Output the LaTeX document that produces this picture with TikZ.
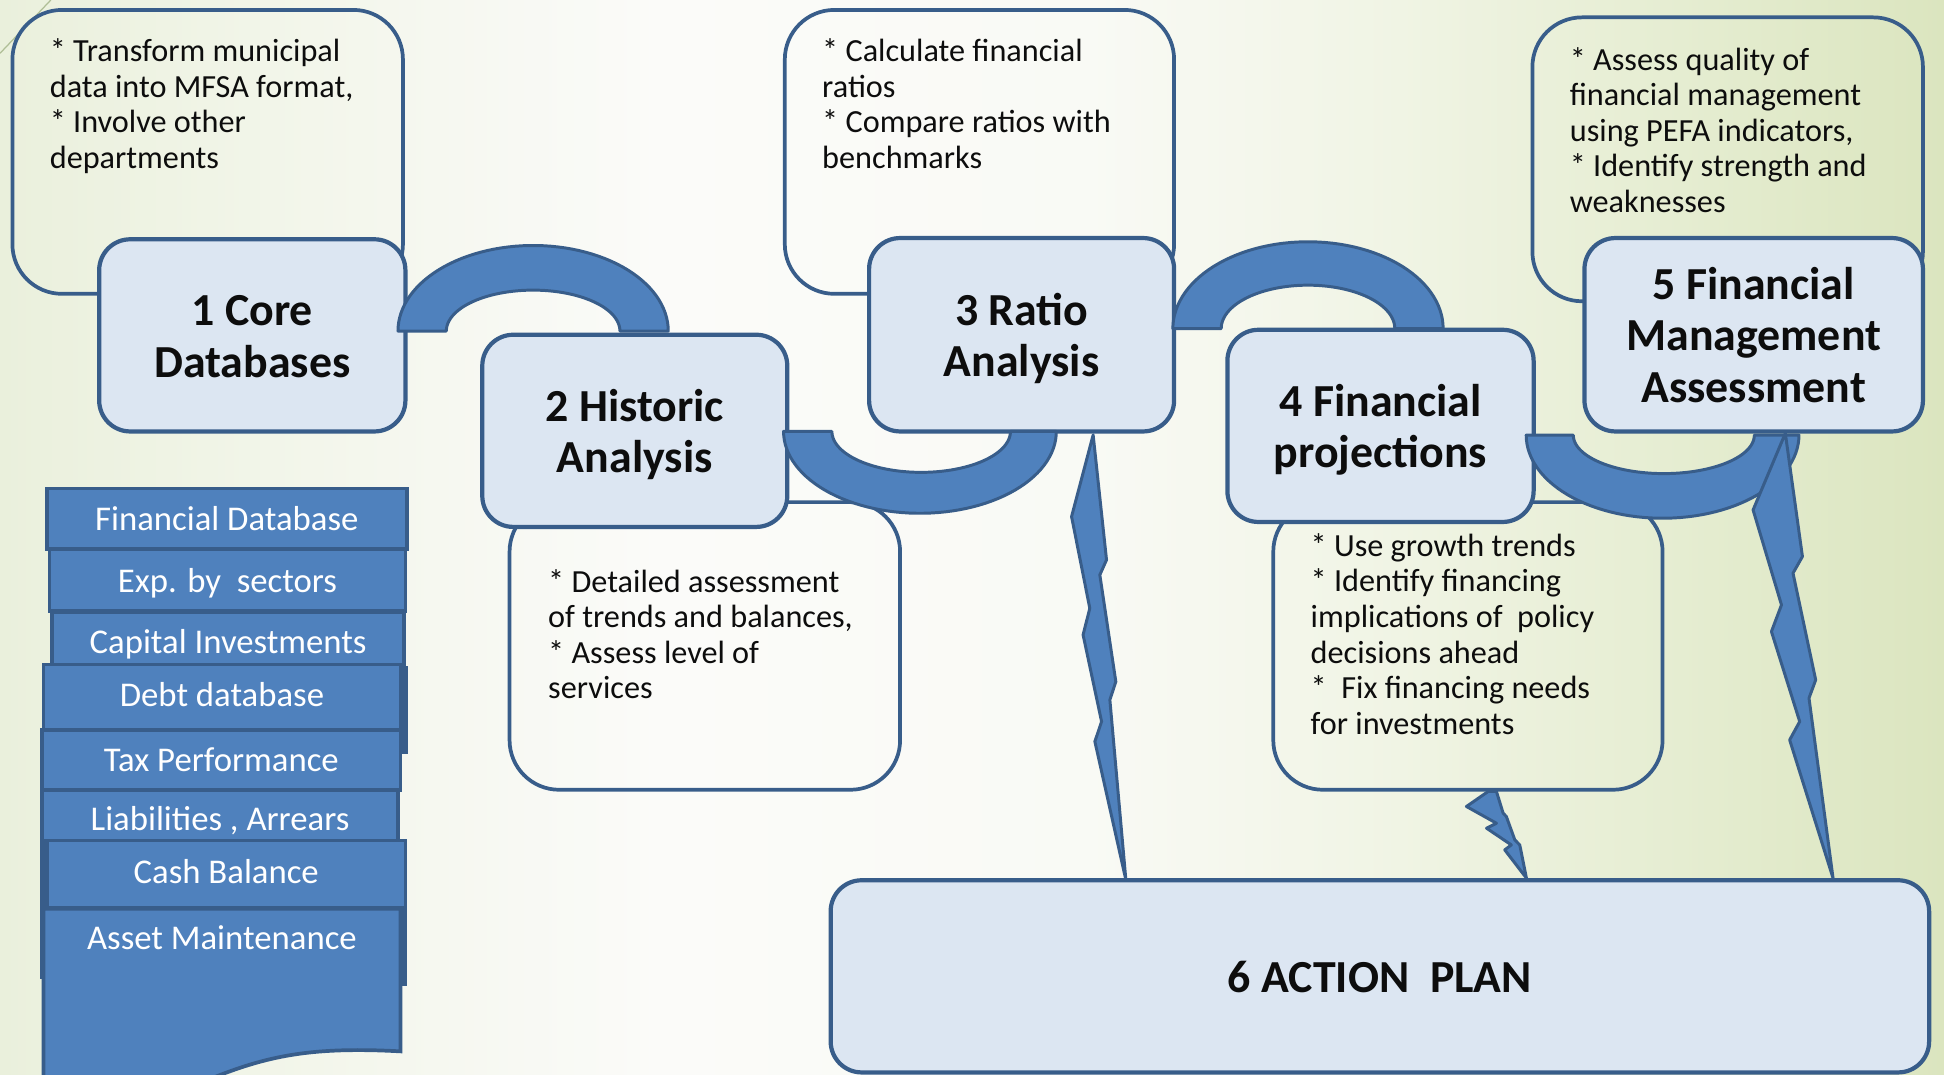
\documentclass[tikz,border=0pt]{standalone}
\usepackage{fontspec}
\setmainfont{Carlito}
\definecolor{bordc}{RGB}{56,93,138}
\definecolor{accent}{RGB}{79,129,189}
\definecolor{boxfill}{RGB}{220,230,242}
\definecolor{txt}{RGB}{13,13,13}
\definecolor{decoline}{RGB}{175,190,150}
\definecolor{bgA}{RGB}{234,240,220}
\definecolor{bgB}{RGB}{243,246,235}
\definecolor{bgC}{RGB}{251,251,249}
\definecolor{bgD}{RGB}{249,250,245}
\definecolor{bgE}{RGB}{240,244,228}
\definecolor{bgF}{RGB}{228,236,207}
\definecolor{bgG}{RGB}{219,229,191}
\pgfdeclarehorizontalshading{bgshade}{100bp}{color(0bp)=(bgA); color(25bp)=(bgA); color(33bp)=(bgB); color(42bp)=(bgC); color(53bp)=(bgD); color(61bp)=(bgE); color(69bp)=(bgF); color(75bp)=(bgG); color(100bp)=(bgG)}
\newcommand{\tstr}{\rule{0pt}{34pt}}
\newcommand{\bstr}{\rule[-8pt]{0pt}{0pt}}
\begin{document}
\begin{tikzpicture}[x=1pt,y=-1pt,
  mainbox/.style={draw=bordc, fill=boxfill, line width=3.4pt, rounded corners=25pt, inner sep=0pt, align=center, font=\fontsize{37}{41.5}\selectfont\bfseries, text=txt},
  notebox/.style={draw=bordc, line width=3pt, rounded corners=40pt, inner sep=0pt},
  notetext/.style={anchor=north west, inner sep=0pt, align=left, font=\fontsize{26}{28.7}\selectfont, text=txt},
  strip/.style={draw=bordc, fill=accent, line width=3pt, inner sep=0pt, text=white, font=\fontsize{28}{30}\selectfont, text height=25pt, text depth=6pt},
  conn/.style={draw=bordc, fill=accent, line width=2.4pt, line join=round},
  backing/.style={fill=bordc}
]
\useasboundingbox (0,0) rectangle (1568,867);
\shade[shading=bgshade] (0,0) rectangle (1568,867);
\clip (0,0) rectangle (1568,867);
\draw[decoline, line width=1pt] (0,43) -- (41,0);

% note boxes
\node[notebox, minimum width=315pt, minimum height=229pt] (n1) at (167.5,122.5) {};
\node[notebox, minimum width=315pt, minimum height=232pt] (n2) at (568.5,521) {};
\node[notebox, minimum width=314pt, minimum height=229pt] (n3) at (790,122.5) {};
\node[notebox, minimum width=314pt, minimum height=232pt] (n4) at (1184,521) {};
\node[notebox, minimum width=315pt, minimum height=229pt] (n5) at (1393.5,128.5) {};

\node[notetext] (n1t) at (40,31) {* Transform municipal\\data into MFSA format,\\* Involve other\\departments};
\node[notetext] (n2t) at (442,459) {* Detailed assessment\\of trends and balances,\\* Assess level of\\services};
\node[notetext] (n3t) at (663,31) {* Calculate financial\\ratios\\* Compare ratios with\\benchmarks};
\node[notetext] (n4t) at (1057,430) {* Use growth trends\\* Identify financing\\implications of~~policy\\decisions ahead\\*~~Fix financing needs\\for investments};
\node[notetext] (n5t) at (1266,38) {* Assess quality of\\financial management\\using PEFA indicators,\\* Identify strength and\\weaknesses};

% main boxes
\node[mainbox, minimum width=247pt, minimum height=155pt] (b1) at (203.5,270.5) {\tstr 1 Core\\Databases\bstr};
\node[mainbox, minimum width=246pt, minimum height=155pt] (b2) at (512,347.5) {\tstr 2 Historic\\Analysis\bstr};
\node[mainbox, minimum width=246pt, minimum height=156pt] (b3) at (824,270) {\tstr 3 Ratio\\Analysis\bstr};
\node[mainbox, minimum width=247pt, minimum height=155pt] (b4) at (1113.5,343.5) {\tstr 4 Financial\\projections\bstr};
\node[mainbox, minimum width=273pt, minimum height=156pt] (b5) at (1414.5,270) {\tstr 5 Financial\\Management\\Assessment\bstr};
\node[mainbox, minimum width=886pt, minimum height=155pt] (b6) at (1113,787.5) {\tstr 6 ACTION~~PLAN\bstr};

% connectors (block arcs)
\filldraw[conn] plot[domain=0:180, samples=60] ({430-109*cos(\x)},{267-69*sin(\x)}) -- plot[domain=0:180, samples=60] ({430+70*cos(\x)},{267-33*sin(\x)}) -- cycle;
\filldraw[conn] plot[domain=0:180, samples=60] ({742-110*cos(\x)},{348+66*sin(\x)}) -- plot[domain=0:180, samples=60] ({743+72*cos(\x)},{348+33*sin(\x)}) -- cycle;
\filldraw[conn] plot[domain=0:180, samples=60] ({1055-109*cos(\x)},{265-70*sin(\x)}) -- plot[domain=0:180, samples=60] ({1055+70*cos(\x)},{265-35*sin(\x)}) -- cycle;
\filldraw[conn] plot[domain=0:180, samples=60] ({1341-110*cos(\x)},{351+67*sin(\x)}) -- plot[domain=0:180, samples=60] ({1342+73*cos(\x)},{351+31*sin(\x)}) -- cycle;

% lightning connectors
\filldraw[conn] (881.7,350.8) -- (864.3,416.7) -- (879,490.6) -- (873.6,512.1) -- (888.5,582) -- (883.1,598.1) -- (908.1,709.7) -- (895.2,564.5) -- (900,549.8) -- (887.1,463.7) -- (892.5,451.6) -- cycle;
\filldraw[conn] (1440,349.5) -- (1414,411.3) -- (1436.9,487.9) -- (1428.8,509.4) -- (1451.6,582) -- (1443.5,596.8) -- (1478.5,708.3) -- (1459.1,563.1) -- (1464.5,548.4) -- (1446.2,462.3) -- (1453.8,448.9) -- cycle;
\filldraw[conn] (1200.3,638.4) -- (1182.8,650.5) -- (1207,664) -- (1199,668) -- (1219,681.5) -- (1213.7,685.5) -- (1231.2,708.3) -- (1225.8,681.5) -- (1221.8,677.4) -- (1215,658.6) -- (1212.4,655.9) -- (1207,638.4) -- cycle;

% database stack
\fill[backing] (300,537) rectangle (329,608);
\fill[backing] (32,678) rectangle (60,790);
\fill[backing] (300,733) rectangle (328,795);
\node[strip, minimum width=290pt, minimum height=49pt] (s1) at (183,418.5) {Financial Database};
\node[strip, minimum width=287pt, minimum height=50pt] (s2) at (183.5,468) {Exp. by~~sectors};
\node[strip, minimum width=284pt, minimum height=42pt, text height=30pt] (s3) at (184,515) {Capital Investments};
\node[strip, minimum width=288pt, minimum height=53pt, text height=21pt] (s4) at (179,562.5) {Debt database};
\node[strip, minimum width=289pt, minimum height=48pt] (s5) at (178.5,613) {Tax Performance};
\node[strip, minimum width=287pt, minimum height=41pt, text height=30pt] (s6) at (177.5,657.5) {Liabilities , Arrears};
\node[strip, minimum width=289pt, minimum height=54pt, text height=22pt] (s7) at (182.5,705) {Cash Balance};
\filldraw[draw=bordc, fill=accent, line width=3pt] (35,733) -- (323,733) -- (323,848) .. controls (250,844) and (215,852) .. (170,870) -- (35,875) -- cycle;
\node[text=white, font=\fontsize{28}{30}\selectfont, inner sep=0pt] (s8) at (179,756) {Asset Maintenance};
\end{tikzpicture}
\end{document}
